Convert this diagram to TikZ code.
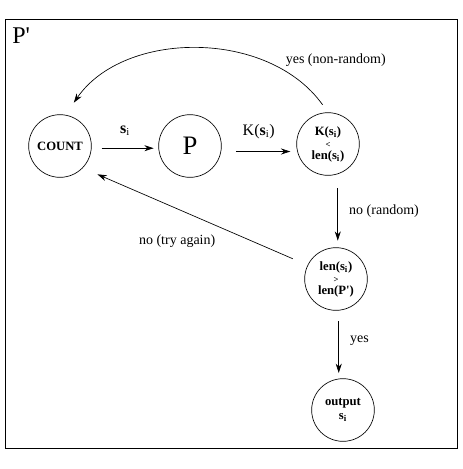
\documentclass[tikz,border=0pt]{standalone}
\usepackage{fontspec}
\setmainfont{Liberation Serif}
\usetikzlibrary{arrows.meta,positioning}

\tikzset{
  state/.style={draw,circle,line width=0.5pt,minimum size=47pt,inner sep=0pt,align=center,font=\fontsize{9.5}{10}\selectfont\bfseries},
  flow/.style={-{Stealth[length=7pt,width=4.5pt]},line width=0.5pt},
  lbl/.style={font=\fontsize{10.5}{12}\selectfont}
}
\newcommand{\si}{\textbf{s}$_{\mathbf{i}}$}

\begin{document}
\begin{tikzpicture}[x=0.75pt,y=-0.75pt]
\useasboundingbox (0,0) rectangle (463,469);
\draw[line width=0.6pt] (5,19) rectangle (457,448);
\node[anchor=north west,inner sep=0pt,font=\fontsize{18}{18}\selectfont] (pprime) at (12,28) {P\textquotesingle};

\node[state] (count) at (60,146) {COUNT};
\node[state,font=\fontsize{20}{20}\selectfont] (prog) at (190,146) {P};
\node[state] (test) at (328,144) {K(\si)\\[-1pt]{\fontsize{6.5}{6.5}\selectfont\textless}\\[-1pt]len(\si)};
\node[state] (lencheck) at (336,279) {len(\si)\\[-1pt]{\fontsize{6.5}{6.5}\selectfont\textgreater}\\[-1pt]len(P\textquotesingle)};
\node[state] (output) at (343,410) {output\\[1pt]\si};

\draw[flow,shorten <=7.5pt,shorten >=3.5pt] (count.-4) -- node[above=6pt,font=\fontsize{12}{12}\selectfont]{$\mathbf{s}_{\mathrm{i}}$} (count.-4 -| prog.west);
\draw[flow,shorten <=11pt,shorten >=4.5pt] (prog.-10) -- node[above=6pt,font=\fontsize{12}{12}\selectfont]{K($\mathbf{s}_{\mathrm{i}}$)} (prog.-10 -| test.west);
\draw[flow,shorten <=10.5pt,shorten >=5pt] (test.-72) -- node[right=5pt,lbl]{no (random)} (test.-72 |- lencheck.north);
\draw[flow,shorten <=8pt,shorten >=4pt] (lencheck.-85) -- node[right=5pt,lbl,pos=0.45]{yes} (lencheck.-85 |- output.north);
\draw[flow,shorten <=12pt,shorten >=12pt] (lencheck.154) -- node[below=16pt,lbl,pos=0.58]{no (try again)} (count.-44);
\draw[flow,shorten <=7pt,shorten >=11pt] (test.north) to[bend right=55] node[pos=0.14,anchor=south west,xshift=-13pt,yshift=8.5pt,lbl]{yes (non-random)} (count.80);
\end{tikzpicture}
\end{document}
